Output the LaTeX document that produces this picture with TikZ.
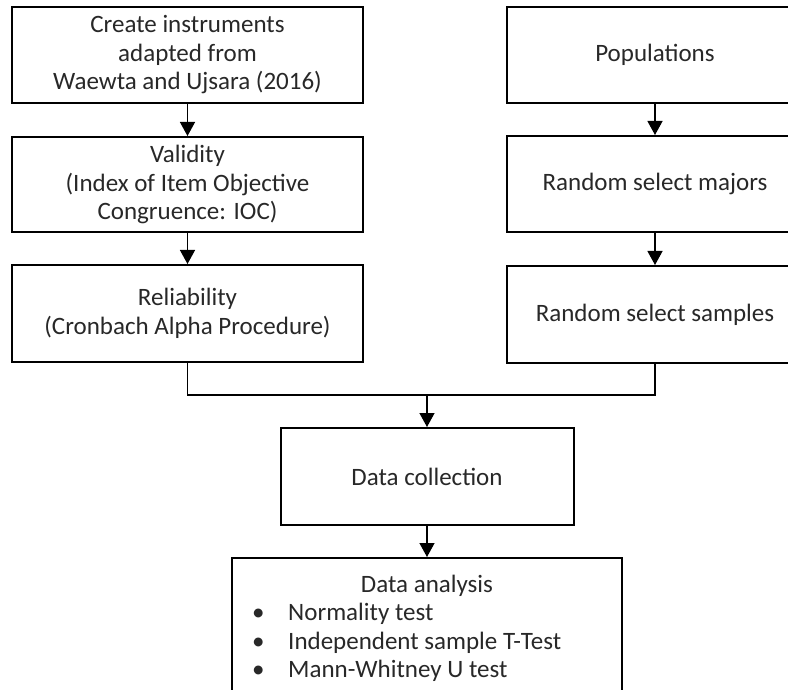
\documentclass[tikz,border=0pt]{standalone}
\usepackage{fontspec}
\setmainfont{Carlito}
\usetikzlibrary{arrows.meta,calc}
\definecolor{txtc}{RGB}{40,40,40}
\tikzset{
  box/.style={draw=black, line width=2pt, align=center, inner sep=0pt,
    font=\fontsize{25}{28.5}\selectfont, text=txtc},
  lbl/.style={inner sep=0pt, font=\fontsize{25}{28.5}\selectfont, text=txtc, anchor=base west},
  conn/.style={line width=1.3pt, draw=black},
  arr/.style={conn, -{Triangle[length=14pt,width=15pt]}}
}
\begin{document}
\begin{tikzpicture}[x=1pt,y=-1pt]
\useasboundingbox (0,0) rectangle (788,690);
\clip (0,0) rectangle (788,690);
\fill[white] (0,0) rectangle (788,690);
% left column
\node[box, minimum width=351pt, minimum height=96pt] (create) at (187.5,55)
  {Create instruments\\adapted from\\Waewta and Ujsara (2016)};
\node[box, minimum width=351pt, minimum height=95pt] (valid) at (187.5,184.5)
  {Validity\\(Index of Item Objective\\Congruence: IOC)};
\node[box, minimum width=351pt, minimum height=97pt] (rel) at (187.5,313.5)
  {Reliability\\(Cronbach Alpha Procedure)};
% right column
\node[box, minimum width=296pt, minimum height=96pt] (pop) at (655,55) {Populations};
\node[box, minimum width=296pt, minimum height=96pt] (majors) at (655,184) {Random select majors};
\node[box, minimum width=296pt, minimum height=97pt] (samples) at (655,314.5) {Random select samples};
% bottom
\node[box, minimum width=293pt, minimum height=97pt] (coll) at (427,476.5) {Data collection};
\node[box, minimum width=390pt, minimum height=150pt, anchor=north] (ana) at (427,557) {};
\node[lbl, anchor=base] (anah) at (427,592) {Data analysis};
\node[lbl] (b1) at (252,620) {•};
\node[lbl] (t1) at (288,620) {Normality test};
\node[lbl] (b2) at (252,649) {•};
\node[lbl] (t2) at (288,649) {Independent sample T-Test};
\node[lbl] (b3) at (252,677) {•};
\node[lbl] (t3) at (288,677) {Mann-Whitney U test};
% connectors
\draw[arr] (create.south) -- (valid.north);
\draw[arr] (valid.south) -- (rel.north);
\draw[arr] (pop.south) -- (majors.north);
\draw[arr] (majors.south) -- (samples.north);
\coordinate (j) at (427,395);
\draw[conn] (rel.south) |- (j) -| (samples.south);
\draw[arr] (j) -- (coll.north);
\draw[arr] (coll.south) -- (ana.north);
\end{tikzpicture}
\end{document}
